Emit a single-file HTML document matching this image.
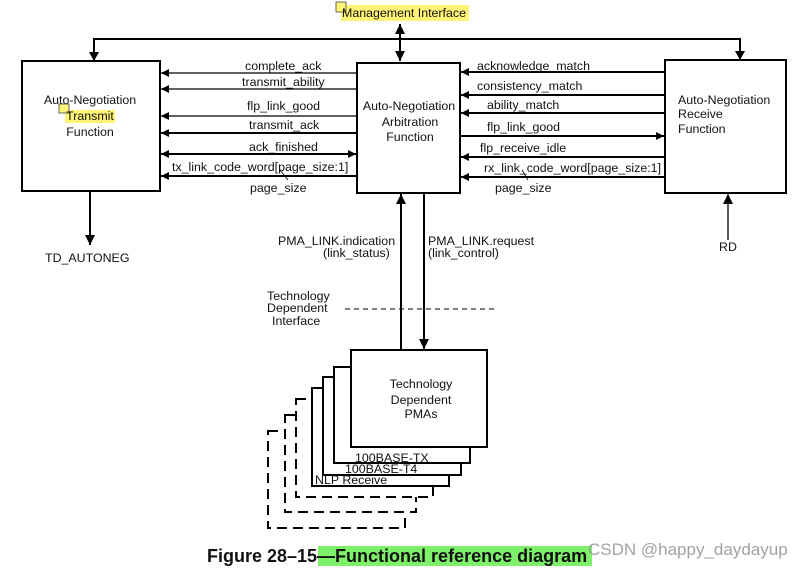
<!DOCTYPE html>
<html><head><meta charset="utf-8"><style>
html,body{margin:0;padding:0;background:#fff;width:803px;height:568px;overflow:hidden}
svg text{font-family:"Liberation Sans",Arial,sans-serif;font-size:12.4px;fill:#111}
</style></head><body>
<svg width="803" height="568" viewBox="0 0 803 568" xmlns="http://www.w3.org/2000/svg">
<defs>
<marker id="a" viewBox="0 0 10 10" refX="10" refY="5" markerWidth="8" markerHeight="8" markerUnits="userSpaceOnUse" orient="auto-start-reverse"><path d="M0,0L10,5L0,10z" fill="#000"/></marker>
<marker id="b" viewBox="0 0 10 10" refX="10" refY="5" markerWidth="10" markerHeight="10" markerUnits="userSpaceOnUse" orient="auto-start-reverse"><path d="M0,0L10,5L0,10z" fill="#000"/></marker>
</defs>
<rect x="341" y="5" width="128" height="16" fill="#fff475"/>
<rect x="336" y="2" width="10" height="10" fill="#fff475" stroke="#444" stroke-width="0.8"/>
<text x="342" y="17">Management Interface</text>
<line x1="400" y1="24" x2="400" y2="61" stroke="#000" stroke-width="2" marker-start="url(#b)" marker-end="url(#b)"/>
<polyline points="94,61 94,39 740,39 740,59" fill="none" stroke="#000" stroke-width="2"/>
<path d="M89,52L94,61L99,52z M735,51L740,60L745,51z"/>
<rect x="22" y="61" width="138" height="130" fill="#fff" stroke="#000" stroke-width="2"/>
<rect x="357" y="63" width="103" height="130" fill="#fff" stroke="#000" stroke-width="2"/>
<rect x="665" y="60" width="121" height="133" fill="#fff" stroke="#000" stroke-width="2"/>
<text x="90" y="104" text-anchor="middle">Auto-Negotiation</text>
<rect x="65" y="110" width="50" height="13" fill="#fff475"/>
<rect x="59" y="104" width="10" height="9" fill="#fff475" stroke="#444" stroke-width="0.8"/>
<text x="90" y="120" text-anchor="middle">Transmit</text>
<text x="90" y="136" text-anchor="middle">Function</text>
<text x="409" y="110" text-anchor="middle">Auto-Negotiation</text>
<text x="410" y="126" text-anchor="middle">Arbitration</text>
<text x="410" y="141" text-anchor="middle">Function</text>
<text x="678" y="104">Auto-Negotiation</text>
<text x="678" y="118">Receive</text>
<text x="678" y="133">Function</text>
<g stroke="#000">
<line x1="357" y1="73" x2="161" y2="73" stroke-width="1.3" marker-end="url(#a)"/>
<line x1="357" y1="89" x2="161" y2="89" stroke-width="1.3" marker-end="url(#a)"/>
<line x1="357" y1="116" x2="161" y2="116" stroke-width="1.3" marker-end="url(#a)"/>
<line x1="357" y1="133" x2="161" y2="133" stroke-width="2" marker-end="url(#a)"/>
<line x1="161" y1="154" x2="356" y2="154" stroke-width="2" marker-start="url(#a)" marker-end="url(#a)"/>
<line x1="357" y1="176" x2="161" y2="176" stroke-width="2" marker-end="url(#a)"/>
<line x1="461" y1="72" x2="665" y2="72" stroke-width="2" marker-start="url(#a)"/>
<line x1="461" y1="95" x2="665" y2="95" stroke-width="2" marker-start="url(#a)"/>
<line x1="461" y1="113" x2="665" y2="113" stroke-width="2" marker-start="url(#a)"/>
<line x1="461" y1="136" x2="664" y2="136" stroke-width="2" marker-end="url(#a)"/>
<line x1="461" y1="157" x2="665" y2="157" stroke-width="2" marker-start="url(#a)"/>
<line x1="461" y1="177" x2="665" y2="177" stroke-width="2" marker-start="url(#a)"/>
<line x1="280" y1="170" x2="288" y2="180" stroke-width="0.8"/>
<line x1="522" y1="170" x2="528" y2="180" stroke-width="0.8"/>
</g>
<text x="245" y="70">complete_ack</text>
<text x="242" y="86">transmit_ability</text>
<text x="247" y="110">flp_link_good</text>
<text x="249" y="129">transmit_ack</text>
<text x="249" y="151">ack_finished</text>
<text x="172" y="171">tx_link_code_word[page_size:1]</text>
<text x="250" y="192">page_size</text>
<text x="477" y="70">acknowledge_match</text>
<text x="477" y="90">consistency_match</text>
<text x="487" y="109">ability_match</text>
<text x="487" y="131">flp_link_good</text>
<text x="480" y="152">flp_receive_idle</text>
<text x="484" y="172">rx_link_code_word[page_size:1]</text>
<text x="495" y="192">page_size</text>
<line x1="90" y1="191" x2="90" y2="245" stroke="#000" stroke-width="2" marker-end="url(#b)"/>
<text x="45" y="262">TD_AUTONEG</text>
<line x1="728" y1="240" x2="728" y2="194" stroke="#000" stroke-width="1.3" marker-end="url(#b)"/>
<text x="719" y="251">RD</text>
<line x1="401" y1="350" x2="401" y2="194" stroke="#000" stroke-width="2" marker-end="url(#b)"/>
<line x1="424" y1="193" x2="424" y2="349" stroke="#000" stroke-width="2" marker-end="url(#b)"/>
<text x="278" y="245">PMA_LINK.indication</text>
<text x="323" y="257">(link_status)</text>
<text x="428" y="245">PMA_LINK.request</text>
<text x="428" y="257">(link_control)</text>
<text x="267" y="300">Technology</text>
<text x="267" y="312">Dependent</text>
<text x="272" y="325">Interface</text>
<line x1="345" y1="309" x2="497" y2="309" stroke="#000" stroke-width="1" stroke-dasharray="5,4"/>
<g fill="#fff" stroke="#000" stroke-width="2">
<rect x="268" y="431" width="137" height="97" stroke-dasharray="10,6"/>
<rect x="285" y="415" width="131" height="97" stroke-dasharray="10,6"/>
<rect x="296" y="399" width="137" height="98" stroke-dasharray="10,6"/>
<rect x="312" y="388" width="137" height="98"/>
<rect x="323" y="377" width="138" height="98"/>
<rect x="334" y="367" width="136" height="96"/>
<rect x="351" y="350" width="136" height="97"/>
</g>
<text x="315" y="484">NLP Receive</text>
<text x="345" y="473">100BASE-T4</text>
<text x="355" y="462">100BASE-TX</text>
<text x="421" y="388" text-anchor="middle">Technology</text>
<text x="421" y="404" text-anchor="middle">Dependent</text>
<text x="421" y="418" text-anchor="middle">PMAs</text>
<rect x="318" y="546" width="274" height="20" fill="#7ef06a"/>
<text x="207" y="562" style="font-size:18px;font-weight:bold">Figure 28–15—Functional reference diagram</text>
<text x="588" y="555" style="font-size:17px;fill:#999;opacity:0.9">CSDN @happy_daydayup</text>
</svg>
</body></html>
